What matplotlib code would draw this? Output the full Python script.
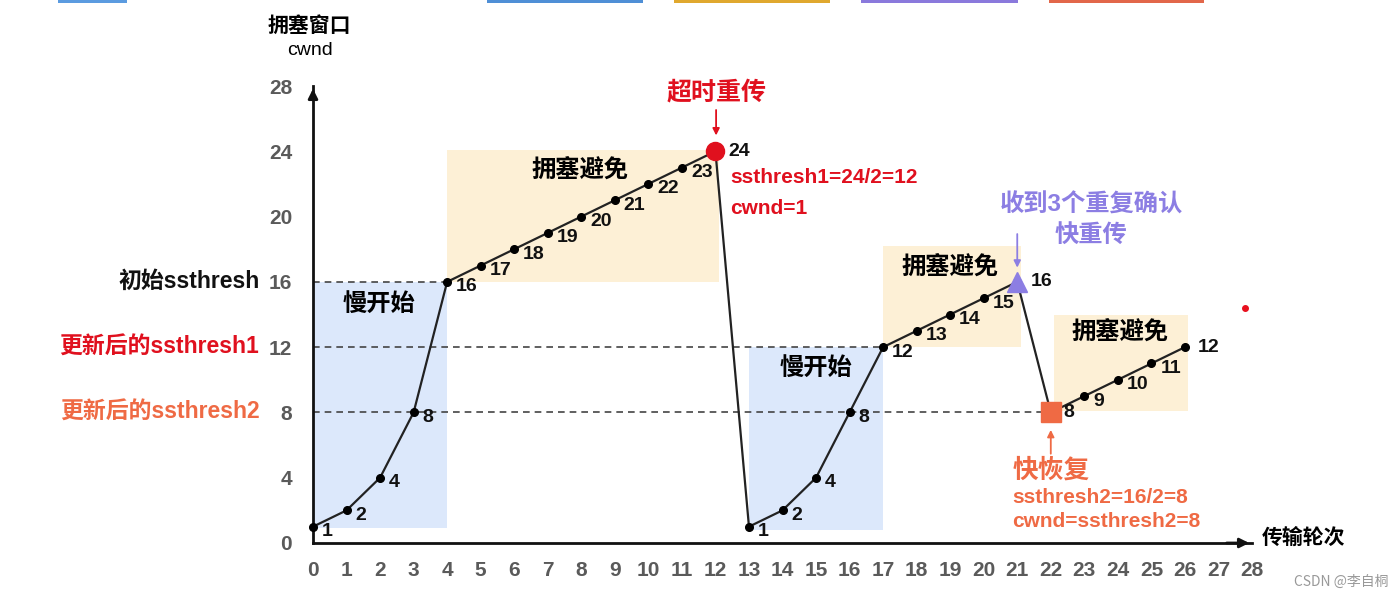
import matplotlib
matplotlib.use("Agg")
import matplotlib.pyplot as plt
from matplotlib.patches import Rectangle
from matplotlib.lines import Line2D

plt.rcParams["font.family"] = ["Liberation Sans", "Noto Sans CJK SC"]
NARROW = ["Liberation Sans Narrow", "Liberation Sans", "Noto Sans CJK SC"]

# data
rounds = list(range(0, 27))
cwnd = [1, 2, 4, 8, 16, 17, 18, 19, 20, 21, 22, 23, 24,
        1, 2, 4, 8, 12, 13, 14, 15, 16,
        8, 9, 10, 11, 12]
timeout_pt = (12, 24)
dupack_pt = (21, 16)
recover_pt = (22, 8)
ssthresh_levels = [16, 12, 8]
ssthresh_ends = [4, 17, 22]
ssthresh_names = ["初始ssthresh", "更新后的ssthresh1", "更新后的ssthresh2"]
xticks = list(range(0, 29))
yticks = [0, 4, 8, 12, 16, 20, 24, 28]

slow_start = [(0, 4, 0.9, 16), (13, 17, 0.8, 12)]
cong_avoid = [(4, 12.1, 16, 24.05), (17, 21.1, 12, 18.2), (22.1, 26.1, 8.1, 14)]

RED = "#e0101e"
PURPLE = "#8c7ee3"
ORANGE = "#ef6a44"
BLUE_FILL = "#dce8fb"
PEACH_FILL = "#fdf0d6"
GRAY = "#5a5a5a"

fig = plt.figure(figsize=(13.98, 6), dpi=100)
ax = fig.add_axes([313 / 1398, 57 / 600, (1252 - 313) / 1398, (543 - 86) / 600])
ax.set_xlim(0, 28)
ax.set_ylim(0, 28)

for x0, x1, y0, y1 in slow_start:
    ax.add_patch(Rectangle((x0, y0), x1 - x0, y1 - y0, color=BLUE_FILL, lw=0, zorder=0))
for x0, x1, y0, y1 in cong_avoid:
    ax.add_patch(Rectangle((x0, y0), x1 - x0, y1 - y0, color=PEACH_FILL, lw=0, zorder=0))

# ssthresh dashed lines
for lvl, end in zip(ssthresh_levels, ssthresh_ends):
    ax.plot([0, end], [lvl, lvl], ls=(0, (4, 3)), color="#444444", lw=1.2, zorder=1)

ax.plot(rounds, cwnd, color="#222222", lw=1.6, marker="o", ms=5.5,
        mfc="black", mec="black", zorder=3, clip_on=False)
ax.plot(*timeout_pt, marker="o", ms=13, color=RED, zorder=4)
ax.plot(*dupack_pt, marker="^", ms=14, color=PURPLE, zorder=4)
ax.plot(*recover_pt, marker="s", ms=14, color=ORANGE, zorder=4)

special = {timeout_pt[0], dupack_pt[0], recover_pt[0], rounds[-1]}
for r, c in zip(rounds, cwnd):
    off = (13, 0) if r in special else (9, -5)
    ax.annotate(str(c), (r, c), xytext=off, textcoords="offset pixels",
                ha="left", va="center", fontsize=14, fontweight="bold",
                family=NARROW, color="#111111", zorder=5, annotation_clip=False)

# axes styling
for s in ["top", "right"]:
    ax.spines[s].set_visible(False)
for s in ["left", "bottom"]:
    ax.spines[s].set_linewidth(2)
    ax.spines[s].set_color("#111111")
ax.set_xticks(xticks)
ax.set_yticks(yticks)
ax.tick_params(length=0, labelsize=15, labelcolor=GRAY)
ax.tick_params(axis="x", pad=13)
ax.tick_params(axis="y", pad=15)
for lab in ax.get_xticklabels() + ax.get_yticklabels():
    lab.set_family(NARROW)
    lab.set_fontweight("bold")
ax.annotate("", xy=(1.0, 0), xytext=(0.97, 0), xycoords="axes fraction",
            arrowprops=dict(arrowstyle="-|>", color="#111111", lw=2, mutation_scale=14))
ax.annotate("", xy=(0, 1.0), xytext=(0, 0.97), xycoords="axes fraction",
            arrowprops=dict(arrowstyle="-|>", color="#111111", lw=2, mutation_scale=14))

ax.text(-0.1, 31.7, "拥塞窗口", ha="center", va="center", fontsize=15, fontweight="bold", clip_on=False)
ax.text(-0.1, 30.2, "cwnd", ha="center", va="center", fontsize=14, family=NARROW, clip_on=False)
ax.text(28.3, 0.3, "传输轮次", ha="left", va="center", fontsize=15, fontweight="bold", clip_on=False)

for lvl, name, col in zip(ssthresh_levels, ssthresh_names, ["#111111", RED, ORANGE]):
    ax.text(-1.6, lvl, name, ha="right", va="center", fontsize=16.5, fontweight="bold",
            color=col, clip_on=False)

# region labels
ax.text(1.97, 14.6, "慢开始", ha="center", va="center", fontsize=17.5, fontweight="bold")
ax.text(15.0, 10.7, "慢开始", ha="center", va="center", fontsize=17.5, fontweight="bold")
ax.text(7.96, 22.8, "拥塞避免", ha="center", va="center", fontsize=17.5, fontweight="bold")
ax.text(19.0, 16.85, "拥塞避免", ha="center", va="center", fontsize=17.5, fontweight="bold")
ax.text(24.06, 12.87, "拥塞避免", ha="center", va="center", fontsize=17.5, fontweight="bold")

# event annotations
ax.text(12.02, 27.6, "超时重传", ha="center", va="center", fontsize=18, fontweight="bold",
        color=RED, clip_on=False)
ax.annotate("", xy=(12.02, 24.8), xytext=(12.02, 26.7),
            arrowprops=dict(arrowstyle="-|>", color=RED, lw=1.3, mutation_scale=10))
ax.text(12.45, 22.4, "ssthresh1=24/2=12", ha="left", va="center", fontsize=15,
        fontweight="bold", color=RED)
ax.text(12.45, 20.5, "cwnd=1", ha="left", va="center", fontsize=15,
        fontweight="bold", color=RED)

ax.text(23.2, 20.7, "收到3个重复确认", ha="center", va="center", fontsize=17.5,
        fontweight="bold", color=PURPLE)
ax.text(23.2, 18.85, "快重传", ha="center", va="center", fontsize=17.5,
        fontweight="bold", color=PURPLE)
ax.annotate("", xy=(21, 16.7), xytext=(21, 19.1),
            arrowprops=dict(arrowstyle="-|>", color=PURPLE, lw=1.3, mutation_scale=10))

ax.annotate("", xy=(22, 7.1), xytext=(22, 5.3),
            arrowprops=dict(arrowstyle="-|>", color=ORANGE, lw=1.3, mutation_scale=10))
ax.text(20.85, 4.45, "快恢复", ha="left", va="center", fontsize=18.5,
        fontweight="bold", color=ORANGE)
ax.text(20.85, 2.8, "ssthresh2=16/2=8", ha="left", va="center", fontsize=15,
        fontweight="bold", color=ORANGE)
ax.text(20.85, 1.3, "cwnd=ssthresh2=8", ha="left", va="center", fontsize=15,
        fontweight="bold", color=ORANGE)

# page decorations
for x0, x1, col in [(58, 127, "#5b9be0"), (487, 643, "#4f8fd6"), (674, 830, "#e0a82e"),
                    (861, 1018, "#8a79dc"), (1049, 1204, "#e2674a")]:
    fig.patches.append(Rectangle((x0 / 1398, 597 / 600), (x1 - x0) / 1398, 3 / 600,
                                 transform=fig.transFigure, color=col, lw=0))
fig.text(1388 / 1398, 18 / 600, "CSDN @李自桐", ha="right", va="center", fontsize=10,
         color="#999999", family=["Noto Sans CJK SC"])
fig.add_artist(Line2D([1245 / 1398], [292 / 600], transform=fig.transFigure,
                      marker="o", ms=4, color="#e8101e", lw=0))

fig.savefig("out.png", dpi=100)
